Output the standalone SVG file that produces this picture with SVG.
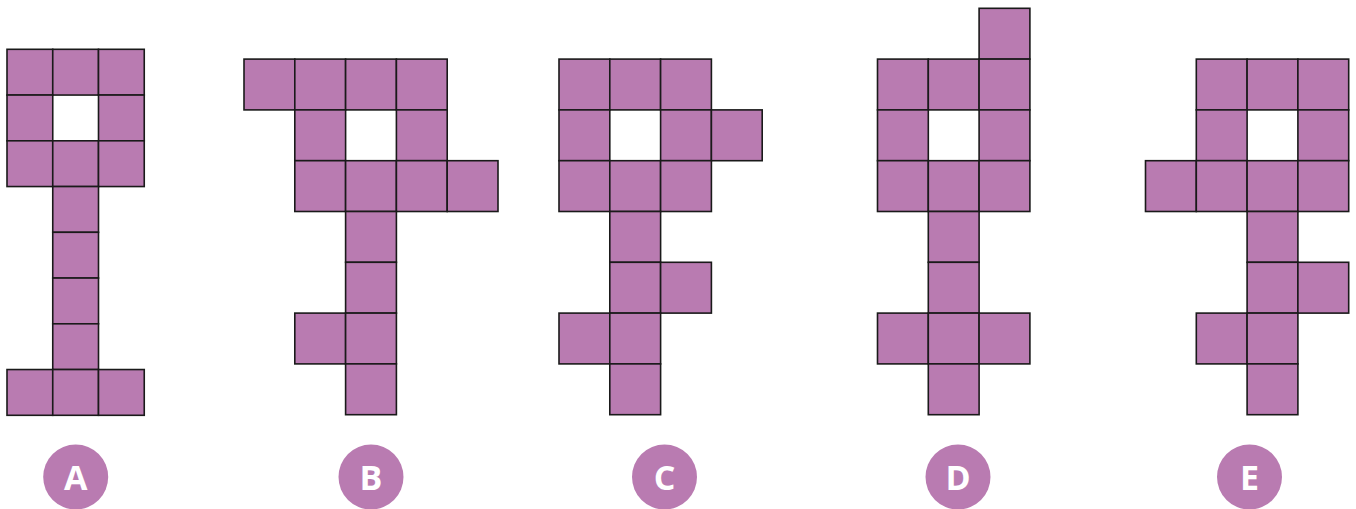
<svg xmlns="http://www.w3.org/2000/svg" width="1356" height="509" viewBox="0 0 1356 509">
<style>
.c{fill:#b97bb1;stroke:#1a1a1a;stroke-width:1.6}
.a rect{width:45.75px;height:45.75px}
.g rect{width:50.8px;height:50.8px}
.lb circle{fill:#b97bb1}
.lb text{fill:#fff;font-family:"Open Sans","Liberation Sans",sans-serif;font-weight:700;font-size:34px;text-anchor:middle}
</style>
<rect width="1356" height="509" fill="#fff"/>
<g id="figA" class="a">
<rect class="c" x="7" y="49.3"/><rect class="c" x="52.75" y="49.3"/><rect class="c" x="98.5" y="49.3"/>
<rect class="c" x="7" y="95.05"/><rect class="c" x="98.5" y="95.05"/>
<rect class="c" x="7" y="140.8"/><rect class="c" x="52.75" y="140.8"/><rect class="c" x="98.5" y="140.8"/>
<rect class="c" x="52.75" y="186.55"/>
<rect class="c" x="52.75" y="232.3"/>
<rect class="c" x="52.75" y="278.05"/>
<rect class="c" x="52.75" y="323.8"/>
<rect class="c" x="7" y="369.55"/><rect class="c" x="52.75" y="369.55"/><rect class="c" x="98.5" y="369.55"/>
</g>
<g id="figB" class="g">
<rect class="c" x="244" y="59.1"/><rect class="c" x="294.8" y="59.1"/><rect class="c" x="345.6" y="59.1"/><rect class="c" x="396.4" y="59.1"/>
<rect class="c" x="294.8" y="109.9"/><rect class="c" x="396.4" y="109.9"/>
<rect class="c" x="294.8" y="160.7"/><rect class="c" x="345.6" y="160.7"/><rect class="c" x="396.4" y="160.7"/><rect class="c" x="447.2" y="160.7"/>
<rect class="c" x="345.6" y="211.5"/>
<rect class="c" x="345.6" y="262.3"/>
<rect class="c" x="294.8" y="313.1"/><rect class="c" x="345.6" y="313.1"/>
<rect class="c" x="345.6" y="363.9"/>
</g>
<g id="figC" class="g">
<rect class="c" x="559" y="59.1"/><rect class="c" x="609.8" y="59.1"/><rect class="c" x="660.6" y="59.1"/>
<rect class="c" x="559" y="109.9"/><rect class="c" x="660.6" y="109.9"/><rect class="c" x="711.4" y="109.9"/>
<rect class="c" x="559" y="160.7"/><rect class="c" x="609.8" y="160.7"/><rect class="c" x="660.6" y="160.7"/>
<rect class="c" x="609.8" y="211.5"/>
<rect class="c" x="609.8" y="262.3"/><rect class="c" x="660.6" y="262.3"/>
<rect class="c" x="559" y="313.1"/><rect class="c" x="609.8" y="313.1"/>
<rect class="c" x="609.8" y="363.9"/>
</g>
<g id="figD" class="g">
<rect class="c" x="979.1" y="8.3"/>
<rect class="c" x="877.5" y="59.1"/><rect class="c" x="928.3" y="59.1"/><rect class="c" x="979.1" y="59.1"/>
<rect class="c" x="877.5" y="109.9"/><rect class="c" x="979.1" y="109.9"/>
<rect class="c" x="877.5" y="160.7"/><rect class="c" x="928.3" y="160.7"/><rect class="c" x="979.1" y="160.7"/>
<rect class="c" x="928.3" y="211.5"/>
<rect class="c" x="928.3" y="262.3"/>
<rect class="c" x="877.5" y="313.1"/><rect class="c" x="928.3" y="313.1"/><rect class="c" x="979.1" y="313.1"/>
<rect class="c" x="928.3" y="363.9"/>
</g>
<g id="figE" class="g">
<rect class="c" x="1196.3" y="59.1"/><rect class="c" x="1247.1" y="59.1"/><rect class="c" x="1297.9" y="59.1"/>
<rect class="c" x="1196.3" y="109.9"/><rect class="c" x="1297.9" y="109.9"/>
<rect class="c" x="1145.5" y="160.7"/><rect class="c" x="1196.3" y="160.7"/><rect class="c" x="1247.1" y="160.7"/><rect class="c" x="1297.9" y="160.7"/>
<rect class="c" x="1247.1" y="211.5"/>
<rect class="c" x="1247.1" y="262.3"/><rect class="c" x="1297.9" y="262.3"/>
<rect class="c" x="1196.3" y="313.1"/><rect class="c" x="1247.1" y="313.1"/>
<rect class="c" x="1247.1" y="363.9"/>
</g>
<g id="labelA" class="lb"><circle cx="75.7" cy="477" r="32.5"/><text x="75.7" y="489.5">A</text></g>
<g id="labelB" class="lb"><circle cx="371" cy="477" r="32.5"/><text x="371" y="489.5">B</text></g>
<g id="labelC" class="lb"><circle cx="664.5" cy="477" r="32.5"/><text x="664.5" y="489.5">C</text></g>
<g id="labelD" class="lb"><circle cx="958" cy="477" r="32.5"/><text x="958" y="489.5">D</text></g>
<g id="labelE" class="lb"><circle cx="1249.5" cy="477" r="32.5"/><text x="1249.5" y="489.5">E</text></g>
<g id="connectors"/>
</svg>
